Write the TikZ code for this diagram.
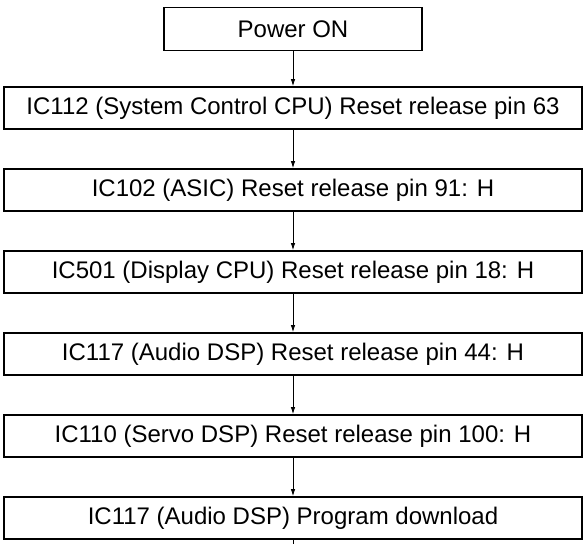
\documentclass[tikz,border=0pt]{standalone}
\usepackage{fontspec}
\setmainfont{Liberation Sans}
\usetikzlibrary{positioning, arrows.meta}

\begin{document}
\begin{tikzpicture}[x=1pt, y=-1pt,
  arr/.style={-{Latex[length=7pt, width=4.5pt]}, line width=0.8pt},
  start/.style={rectangle, draw=black, line width=1.8pt, fill=white,
                align=center, font=\fontsize{24}{26}\selectfont, inner sep=0pt,
                minimum width=258pt, minimum height=43pt},
  stage/.style={rectangle, draw=black, line width=1.8pt, fill=white,
                align=center, font=\fontsize{24}{26}\selectfont, inner sep=0pt,
                minimum width=578pt, minimum height=42pt}
]
\useasboundingbox (0,0) rectangle (584,544);
\node[start] (power) at (293, 29)  {Power ON};
\node[stage] (sysc)  at (293,108)  {IC112 (System Control CPU) Reset release pin 63};
\node[stage] (asic)  at (293,190)  {IC102 (ASIC) Reset release pin 91: H};
\node[stage] (disp)  at (293,272)  {IC501 (Display CPU) Reset release pin 18: H};
\node[stage] (audio) at (293,354)  {IC117 (Audio DSP) Reset release pin 44: H};
\node[stage] (servo) at (293,436)  {IC110 (Servo DSP) Reset release pin 100: H};
\node[stage] (prog)  at (293,518)  {IC117 (Audio DSP) Program download};
\coordinate (next) at (293,544);

\draw[arr] (power.south) -- (sysc.north);
\draw[arr] (sysc.south) -- (asic.north);
\draw[arr] (asic.south) -- (disp.north);
\draw[arr] (disp.south) -- (audio.north);
\draw[arr] (audio.south) -- (servo.north);
\draw[arr] (servo.south) -- (prog.north);
\draw[line width=0.8pt] (prog.south) -- (next);
\end{tikzpicture}
\end{document}
